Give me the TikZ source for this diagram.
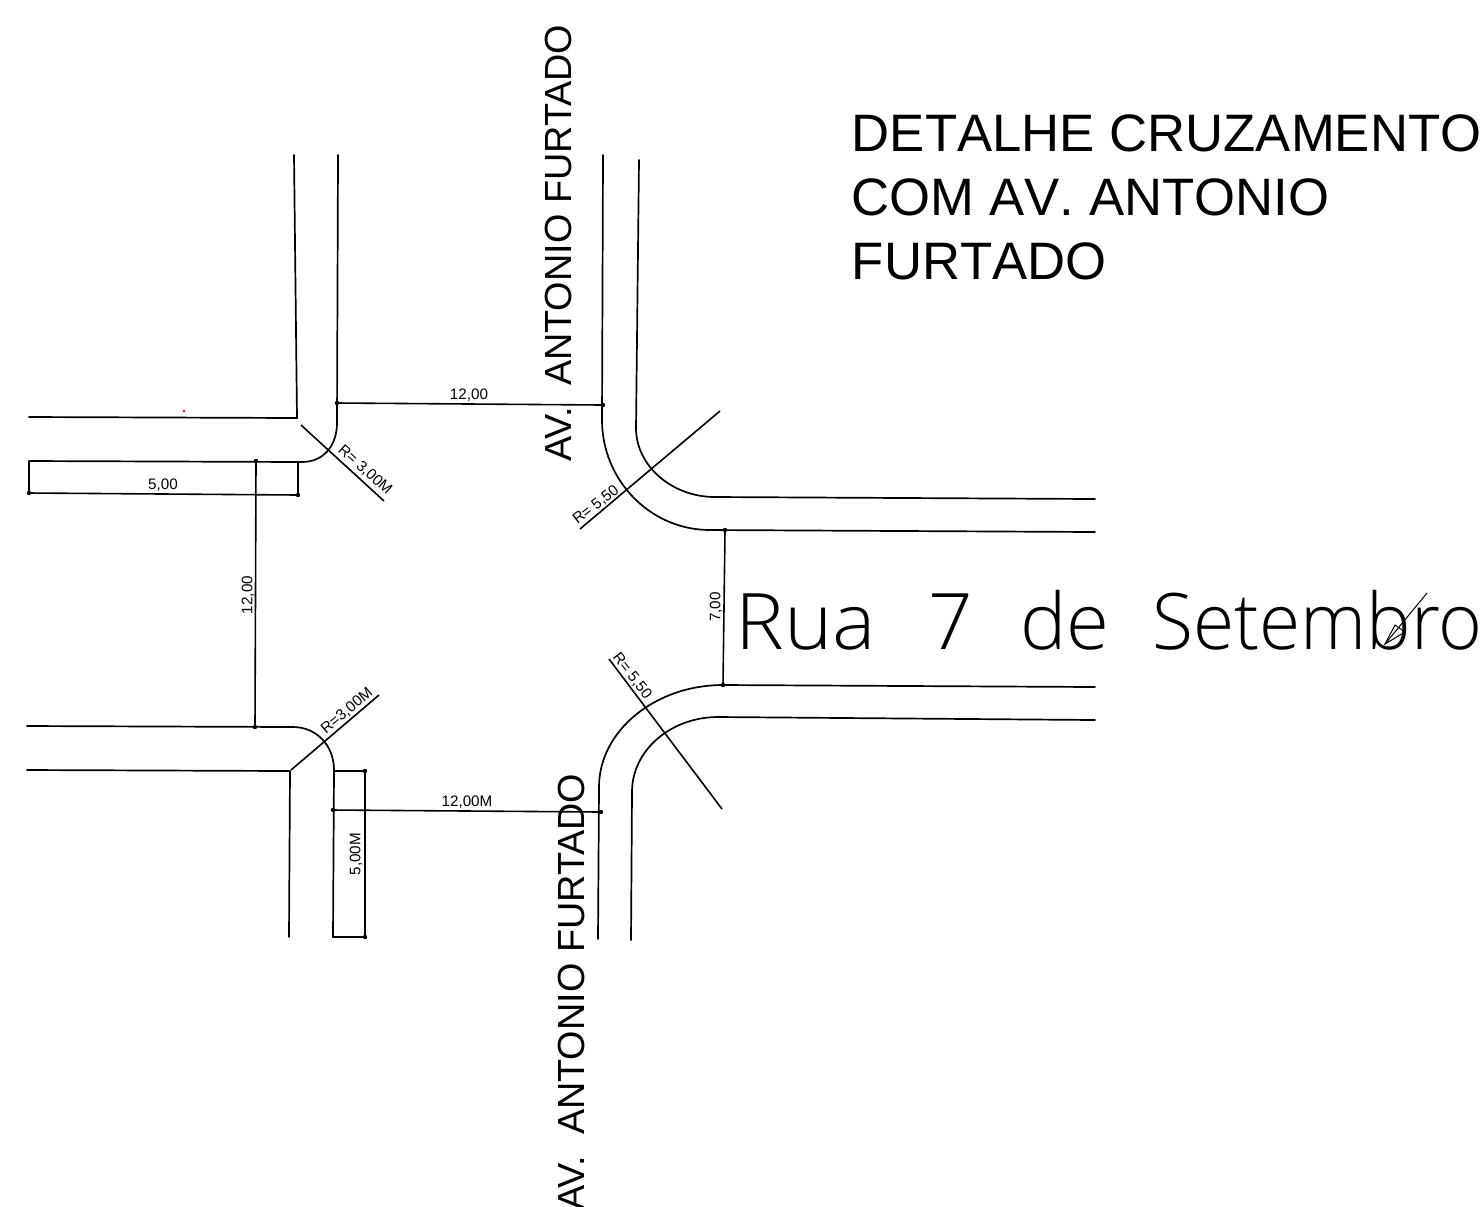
\documentclass[tikz,border=0pt]{standalone}
\usepackage{fontspec}
\setmainfont[Kerning=Off]{Liberation Sans}
\newfontfamily\vertfont{Liberation Sans}
\newfontfamily\thinfont{Open Sans Light}
\tikzset{
  road/.style={line width=0.85pt,line cap=round,line join=round},
  dim/.style={line width=0.8pt},
  big/.style={font=\fontsize{26.35}{32}\selectfont,anchor=base west,inner sep=0pt,align=left},
  vert/.style={font=\vertfont\fontsize{18.9}{22}\selectfont,anchor=base west,inner sep=0pt,rotate=90},
  small/.style={font=\fontsize{7.6}{9}\selectfont,inner sep=0pt,text=black},
  dimdot/.style={fill=black,circle,inner sep=0pt,minimum size=2.2pt}
}
\begin{document}
\begin{tikzpicture}[x=0.5pt,y=-0.5pt]
\useasboundingbox (0,0) rectangle (1481,1206);
\clip (0,0) rectangle (1481,1206);
% text
\node[big] (title1) at (851.5,151) {DETALHE CRUZAMENTO};
\node[big] (title2) at (851.5,215) {COM AV. ANTONIO};
\node[big] (title3) at (851.5,279) {FURTADO};
\node[vert] (vtop) at (571,462) {AV.\ \ ANTONIO FURTADO};
\node[vert] (vbot) at (584,1211) {AV.\ \ ANTONIO FURTADO};
\node[font=\thinfont\fontsize{39}{44}\selectfont,anchor=base west,inner sep=0pt] (rua) at (735,649) {\makebox[96.5pt][l]{\scalebox{1.05}[1]{Rua}}\makebox[46pt][l]{7}\makebox[66pt][l]{de}\scalebox{0.96}[1]{Setembro}};
% upper left
\draw[road] (294,155) -- (297,418) -- (29,417);
\draw[road] (338,155) -- (337,423) .. controls (337,445) and (324,462) .. (302,462) -- (29,461) -- (29,493);
\draw[dim] (29,493) -- (298,495);
\draw[dim] (298,462) -- (298,495);
\draw[dim] (301,425) -- (384,501);
\node[small,rotate=-42] (r1) at (365,470) {R= 3,00M};
\node[small] (d5a) at (163,485) {5,00};
\node[dimdot] at (29,493) {};
\node[dimdot] at (298,495) {};
\node[dimdot] at (256,461) {};
\node[dimdot] at (255,727) {};
% 12,00 top
\draw[dim] (337,403) -- (603,405);
\node[small] (d12a) at (469,395) {12,00};
\node[dimdot] at (337,403) {};
\node[dimdot] at (603,405) {};
% 12,00 vertical
\draw[dim] (256,461) -- (255,727);
\node[small,rotate=90] (d12b) at (248,595) {12,00};
% lower left
\draw[road] (27,726) -- (293,727) .. controls (317,727) and (334,746) .. (334,770) -- (333,937) -- (365,937) -- (365,771) -- (334,771);
\draw[road] (27,770) -- (290,771) -- (289,937);
\draw[dim] (291,770) -- (379,695);
\node[small,rotate=40] (r2) at (347,711) {R=3,00M};
\draw[dim] (333,810) -- (601,812);
\node[small] (d12c) at (467,802) {12,00M};
\node[small,rotate=90] (d5b) at (356,854) {5,00M};
\node[dimdot] at (333,810) {};
\node[dimdot] at (601,812) {};
\node[dimdot] at (365,771) {};
\node[dimdot] at (365,937) {};
% upper right
\draw[road] (603,155) -- (602,420) .. controls (602,480) and (650,530) .. (710,530) -- (1095,532);
\draw[road] (639,160) -- (636,428) .. controls (636,466) and (672,497) .. (715,497) -- (1095,499);
\draw[dim] (580,529) -- (720,411);
\node[small,rotate=38] (r3) at (596,505) {R= 5,50};
% 7,00
\draw[dim] (725,530) -- (723,685);
\node[small,rotate=90] (d7) at (716,607) {7,00};
\node[dimdot] at (725,530) {};
\node[dimdot] at (723,685) {};
% lower right
\draw[road] (1095,687) -- (723,685) .. controls (655,685) and (599,731) .. (599,787) -- (598,939);
\draw[road] (1095,720) -- (718,717) .. controls (671,717) and (632,750) .. (632,792) -- (631,940);
\draw[dim] (609,659) -- (722,809);
\node[small,rotate=-52] (r4) at (632,676) {R= 5,50};
% arrow mark
\draw[line width=0.5pt] (1427,593) -- (1385,644);
\draw[line width=0.5pt] (1385,644) -- (1395,625) -- (1405,632) -- cycle;
% red speck
\fill[red] (184,411) circle (0.7pt);
\end{tikzpicture}
\end{document}
